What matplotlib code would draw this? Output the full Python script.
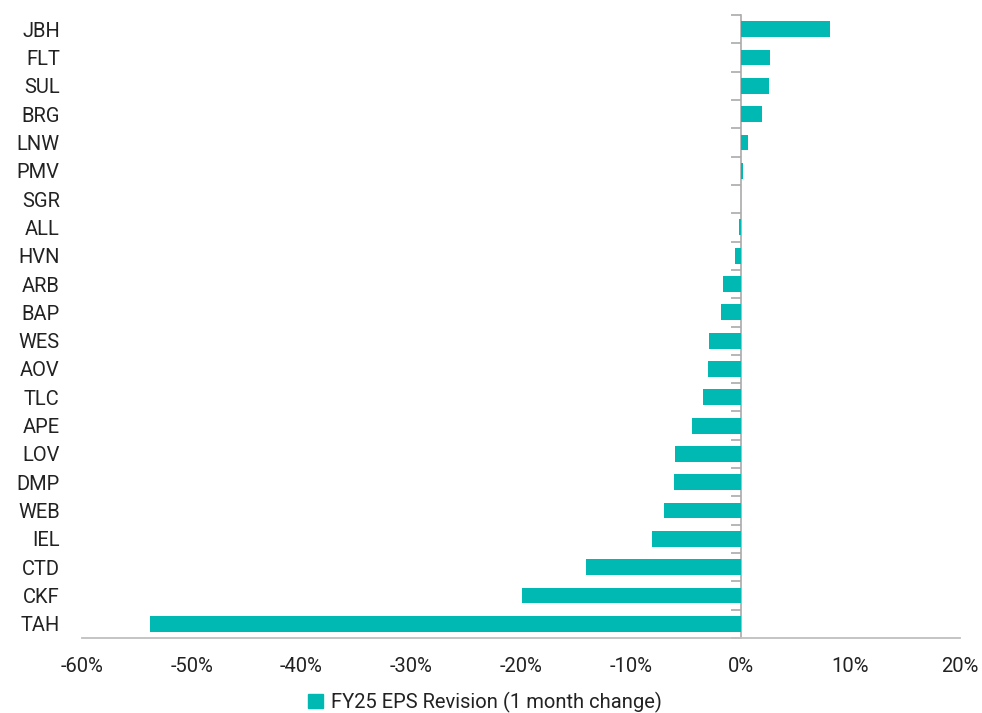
import matplotlib
matplotlib.use("Agg")
import matplotlib.pyplot as plt
from matplotlib.ticker import FuncFormatter, FixedLocator, NullFormatter
from matplotlib.patches import Patch

tickers = ["JBH", "FLT", "SUL", "BRG", "LNW", "PMV", "SGR", "ALL", "HVN", "ARB", "BAP",
           "WES", "AOV", "TLC", "APE", "LOV", "DMP", "WEB", "IEL", "CTD", "CKF", "TAH"]
revision = [8.2, 2.7, 2.6, 2.0, 0.7, 0.2, 0.0, -0.1, -0.5, -1.6, -1.8,
            -2.9, -3.0, -3.4, -4.4, -6.0, -6.1, -6.95, -8.1, -14.1, -19.9, -53.8]
series_name = "FY25 EPS Revision (1 month change)"
x_ticks = [-60, -50, -40, -30, -20, -10, 0, 10, 20]

teal = "#00B9B2"
grey = "#BFBFBF"
txt = "#222222"
font = ["Roboto", "DejaVu Sans"]

fig = plt.figure(figsize=(9.82, 7.13), dpi=100)
ax = fig.add_axes([82/982, 1-638/713, (960-82)/982, (638-15)/713])

y = list(range(len(tickers)))
ax.barh(y, revision, height=0.56, color=teal, zorder=2)
ax.set_xlim(-60, 20)
ax.set_ylim(len(tickers)-0.5, -0.5)

for s in ["top", "right", "left"]:
    ax.spines[s].set_visible(False)
ax.spines["bottom"].set_color(grey)
ax.spines["bottom"].set_linewidth(1.3)

ax.set_yticks(y)
ax.set_yticklabels(tickers, fontsize=14.5, color=txt, family=font)
ax.tick_params(axis="y", length=0, pad=16)

ax.set_xticks(x_ticks)
ax.xaxis.set_major_formatter(FuncFormatter(lambda v, p: f"{v:.0f}%"))
ax.tick_params(axis="x", length=0, pad=14, labelsize=14.5, labelcolor=txt)
for lab in ax.get_xticklabels():
    lab.set_family(font)

# zero line with category separator ticks
sec = ax.secondary_yaxis(0.75)
for sp in sec.spines.values():
    sp.set_color("#AAAAAA")
    sp.set_linewidth(1.2)
sec.yaxis.set_major_locator(FixedLocator([i + 0.5 for i in range(-1, len(tickers))]))
sec.yaxis.set_major_formatter(NullFormatter())
sec.tick_params(axis="y", length=7, color="#AAAAAA", width=1.2, direction="in")

leg = fig.legend(handles=[Patch(color=teal, label=series_name)], loc="center",
                 bbox_to_anchor=(485/982, 1-702/713), frameon=False,
                 handlelength=0.7, handleheight=0.7, handletextpad=0.4,
                 prop={"family": font, "size": 14.5})
for t in leg.get_texts():
    t.set_color(txt)

fig.savefig("out.png", dpi=100)
